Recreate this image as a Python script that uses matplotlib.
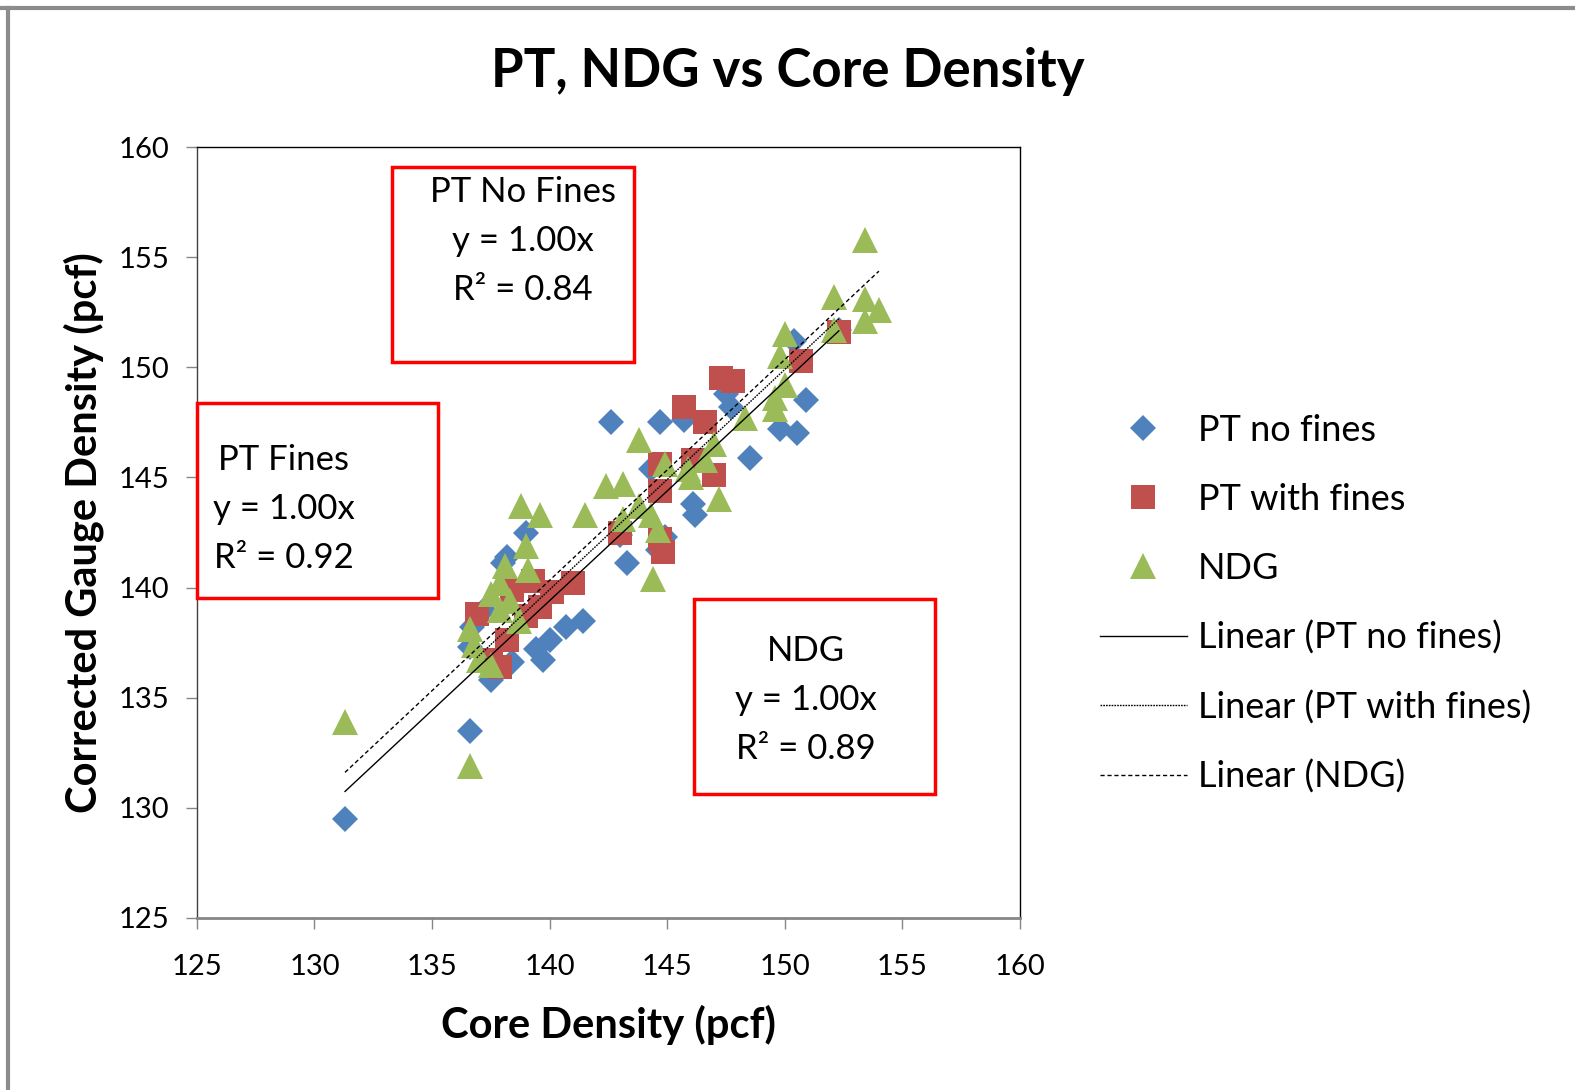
import numpy as np
import matplotlib.pyplot as plt
from matplotlib.patches import Rectangle
from matplotlib.lines import Line2D

plt.rcParams['font.family'] = ['Lato', 'DejaVu Sans']

# PT no fines
pt_nofines_x = [131.3, 136.6, 136.7, 136.6, 137.5, 138.4, 138.0, 138.2, 139.0, 139.7,
                140.0, 140.7, 141.4, 143.3, 144.6, 142.6, 144.7, 144.3, 146.1, 146.2,
                144.9, 148.5, 149.8, 147.7, 150.9, 150.4, 143.0, 145.7, 147.5, 152.3,
                150.5, 139.4, 137.2]
pt_nofines_y = [129.5, 133.5, 138.2, 137.3, 135.8, 136.6, 141.1, 141.4, 142.5, 136.7,
                137.6, 138.2, 138.5, 141.1, 141.7, 147.5, 147.5, 145.4, 143.8, 143.3,
                142.3, 145.9, 147.2, 148.2, 148.5, 151.2, 142.4, 147.6, 148.8, 151.7,
                147.0, 137.2, 139.0]

# PT with fines
pt_fines_x = [147.3, 147.8, 145.7, 146.6, 147.0, 144.7, 146.1, 144.7, 143.0, 144.7,
              150.7, 152.3, 141.0, 140.1, 139.6, 139.3, 138.4, 136.9, 138.2, 137.9,
              137.5, 144.8, 139.0]
pt_fines_y = [149.5, 149.4, 148.2, 147.5, 145.1, 145.6, 145.8, 144.4, 142.5, 142.2,
              150.3, 151.6, 140.2, 139.8, 139.1, 140.3, 139.9, 138.8, 137.6, 136.4,
              136.7, 141.6, 138.7]

# NDG
ndg_x = [131.3, 136.6, 153.4, 152.1, 153.4, 154.0, 153.4, 152.1, 150.0, 149.8,
         150.0, 149.6, 149.6, 148.3, 147.2, 147.0, 146.6, 145.9, 144.9, 143.8,
         142.4, 143.1, 141.5, 139.6, 138.8, 139.0, 138.1, 137.9, 139.1, 144.4,
         144.6, 144.3, 143.8, 136.6, 136.8, 137.0, 137.5, 137.9, 138.3, 138.7,
         137.5, 143.1, 146.0]
ndg_y = [133.9, 131.9, 155.8, 153.2, 153.1, 152.6, 152.1, 151.7, 151.5, 150.5,
         149.2, 148.6, 148.1, 147.7, 144.0, 146.5, 145.8, 145.4, 145.6, 146.7,
         144.6, 144.7, 143.3, 143.3, 143.7, 141.9, 141.0, 140.2, 140.8, 140.4,
         142.6, 143.3, 143.7, 138.1, 137.4, 136.7, 136.5, 139.0, 139.4, 138.5,
         139.7, 143.1, 145.0]

series_names = ['PT no fines', 'PT with fines', 'NDG']
box_texts = [['PT No Fines', 'y = 1.00x', 'R\u00b2 = 0.84'],
             ['PT Fines', 'y = 1.00x', 'R\u00b2 = 0.92'],
             ['NDG', 'y = 1.00x', 'R\u00b2 = 0.89']]

fig = plt.figure(figsize=(15.75, 10.9), dpi=100)
ax = fig.add_axes([0.125, 0.1578, 0.5226, 0.7073])

series = [(pt_nofines_x, pt_nofines_y, 'D', 13.5, '#4F81BD', '-'),
          (pt_fines_x, pt_fines_y, 's', 17, '#C0504D', (0, (1.2, 0.8))),
          (ndg_x, ndg_y, '^', 19, '#9BBB59', (0, (3, 2)))]

marker_handles = []
line_handles = []
for (xs, ys, mk, ms, col, ls), name in zip(series, series_names):
    h, = ax.plot(xs, ys, linestyle='none', marker=mk, markersize=ms,
                 color=col, markeredgewidth=0, label=name, zorder=3)
    marker_handles.append(h)

for (xs, ys, mk, ms, col, ls), name in zip(series, series_names):
    x = np.array(xs)
    y = np.array(ys)
    # linear fit through origin, like the Excel trendline with intercept = 0
    k = np.sum(x * y) / np.sum(x * x)
    xx = np.array([x.min(), x.max()])
    lh, = ax.plot(xx, k * xx, color='black', linewidth=1.0, linestyle=ls,
                  label='Linear (%s)' % name, zorder=4)
    line_handles.append(lh)

ax.set_xlim(125, 160)
ax.set_ylim(125, 160)
ax.set_xticks(range(125, 161, 5))
ax.set_yticks(range(125, 161, 5))
ax.tick_params(axis='both', direction='out', length=8, width=1, color='#868686',
               labelsize=21, pad=18)
ax.tick_params(axis='y', pad=12)
for s in ['top', 'right']:
    ax.spines[s].set_color('black')
    ax.spines[s].set_linewidth(1)
ax.spines['bottom'].set_color('#868686')
ax.spines['bottom'].set_linewidth(2)
ax.spines['left'].set_color('#404040')
ax.spines['left'].set_linewidth(1)

ax.set_xlabel('Core Density (pcf)', fontsize=30, fontweight='bold', labelpad=18)
ax.set_ylabel('Corrected Gauge Density (pcf)', fontsize=30, fontweight='bold', labelpad=10)
fig.text(0.5, 1 - 72 / 1090, 'PT, NDG vs Core Density', ha='center', va='center',
         fontsize=38, fontweight='bold')

# red annotation boxes (figure pixel positions)
boxes = [(392, 167, 634, 362, 523, 192),
         (197, 403, 438, 598, 284, 460),
         (694, 599, 935, 794, 806, 651)]
W, H = 1575, 1090
for (x0, y0, x1, y1, tx, ty), lines in zip(boxes, box_texts):
    fig.patches.append(Rectangle((x0 / W, 1 - y1 / H), (x1 - x0) / W, (y1 - y0) / H,
                                 transform=fig.transFigure, fill=False,
                                 edgecolor='#FF0000', linewidth=2.5, zorder=5))
    for i, line in enumerate(lines):
        fig.text(tx / W, 1 - (ty + 49 * i) / H, line, ha='center', va='center',
                 fontsize=25, zorder=6)

fig.legend(marker_handles + line_handles,
           [h.get_label() for h in marker_handles + line_handles],
           loc='upper left', bbox_to_anchor=(1100 / W, 1 - 414 / H),
           frameon=False, fontsize=26, numpoints=1, handlelength=2.4,
           handletextpad=0.3, labelspacing=0.99, borderpad=0, borderaxespad=0)

# grey frame lines at top and left of the image
fig.lines.append(Line2D([0, 1], [1 - 8 / H, 1 - 8 / H], transform=fig.transFigure,
                        color='#8C8C8C', linewidth=3))
fig.lines.append(Line2D([8 / W, 8 / W], [0, 1 - 8 / H], transform=fig.transFigure,
                        color='#8C8C8C', linewidth=3))

fig.savefig('out.png', dpi=100)
